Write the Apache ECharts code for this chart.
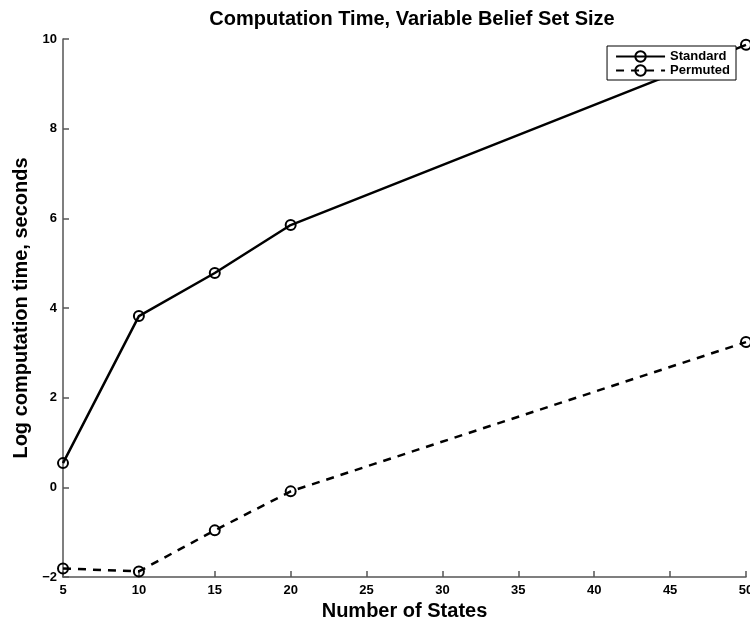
<!DOCTYPE html>
<html>
<head>
<meta charset="utf-8">
<script src="https://cdn.jsdelivr.net/npm/echarts@6/dist/echarts.min.js"></script>
<style>html,body{margin:0;padding:0;background:#fff}#c{width:750px;height:621px}</style>
</head>
<body>
<div id="c"></div>
<script>
const states = [5, 10, 15, 20, 50];
const standard = [0.54, 3.82, 4.78, 5.85, 9.87];
const permuted = [-1.81, -1.875, -0.96, -0.09, 3.24];
const yTicks = [-2, 0, 2, 4, 6, 8, 10];
const xTicks = [5, 10, 15, 20, 25, 30, 35, 40, 45, 50];

const font = 'Liberation Sans, Arial, sans-serif';
const chart = echarts.init(document.getElementById('c'));
const axisCol = '#555';
chart.setOption({
  animation: false,
  backgroundColor: '#fff',
  title: {
    text: 'Computation Time, Variable Belief Set Size',
    left: 407, top: 4, textAlign: 'center',
    textStyle: {fontFamily: font, fontSize: 20, fontWeight: 'bold', color: '#000'}
  },
  legend: {
    right: 14, top: 46, orient: 'vertical', itemGap: 1,
    padding: [4, 6, 3, 8],
    borderColor: '#000', borderWidth: 1, borderRadius: 0, backgroundColor: '#fff',
    itemWidth: 49, itemHeight: 13, itemSymbolSize: 8,
    textStyle: {fontFamily: font, fontSize: 13, fontWeight: 'bold', color: '#000'},
    data: ['Standard', 'Permuted']
  },
  grid: {left: 63, right: 4, top: 39, bottom: 44, containLabel: false, outerBoundsMode: 'none'},
  xAxis: {
    type: 'value', min: 5, max: 50, interval: 5,
    name: 'Number of States', nameLocation: 'middle', nameGap: 22,
    nameTextStyle: {fontFamily: font, fontSize: 20, fontWeight: 'bold', color: '#000'},
    axisLine: {onZero: false, lineStyle: {color: axisCol, width: 1.5}},
    axisTick: {inside: true, length: 6, lineStyle: {color: axisCol, width: 1.5}},
    axisLabel: {fontFamily: font, fontSize: 13, fontWeight: 'bold', color: '#000', margin: 7,
      formatter: v => xTicks.includes(v) ? String(v) : ''},
    splitLine: {show: false}
  },
  yAxis: {
    type: 'value', min: -2, max: 10, interval: 2,
    name: 'Log computation time, seconds', nameLocation: 'middle', nameGap: 31,
    nameTextStyle: {fontFamily: font, fontSize: 20, fontWeight: 'bold', color: '#000'},
    axisLine: {show: true, onZero: false, lineStyle: {color: axisCol, width: 1.5}},
    axisTick: {show: true, inside: true, length: 6, lineStyle: {color: axisCol, width: 1.5}},
    axisLabel: {fontFamily: font, fontSize: 13, fontWeight: 'bold', color: '#000', margin: 6,
      formatter: v => yTicks.includes(v) ? (v < 0 ? '\u2212' + Math.abs(v) : String(v)) : ''},
    splitLine: {show: false}
  },
  series: [
    {
      name: 'Standard', type: 'line', clip: false,
      data: states.map((s, i) => [s, standard[i]]),
      symbol: 'circle', symbolSize: 10,
      lineStyle: {color: '#000', width: 2.5},
      itemStyle: {color: 'rgba(255,255,255,0)', borderColor: '#000', borderWidth: 2}
    },
    {
      name: 'Permuted', type: 'line', clip: false,
      data: states.map((s, i) => [s, permuted[i]]),
      symbol: 'circle', symbolSize: 10,
      lineStyle: {color: '#000', width: 2.5, type: [8, 7]},
      itemStyle: {color: 'rgba(255,255,255,0)', borderColor: '#000', borderWidth: 2}
    }
  ]
});
</script>
</body>
</html>
